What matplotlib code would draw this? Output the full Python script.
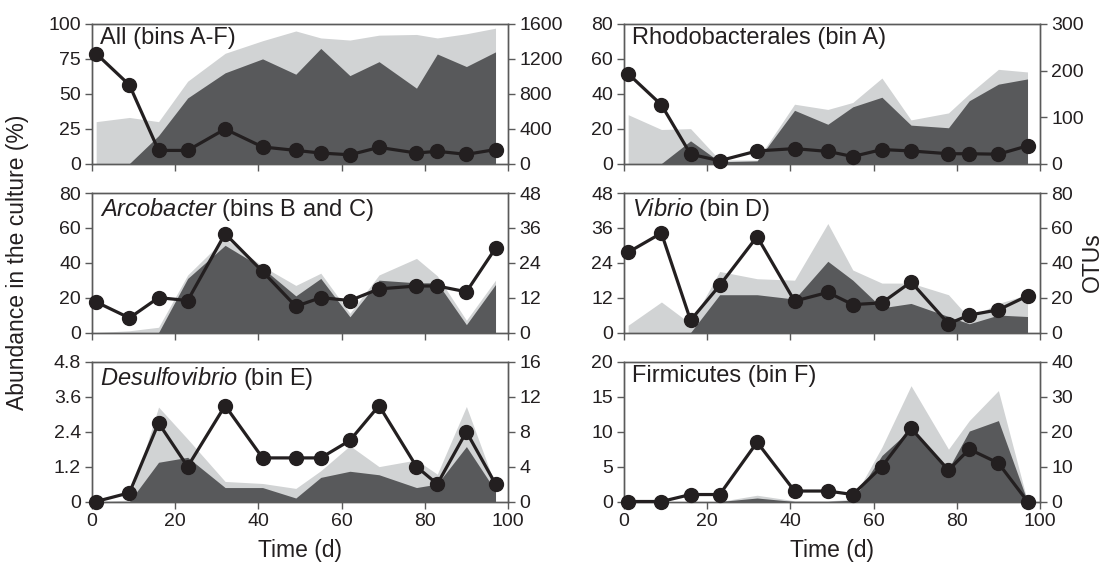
import matplotlib
matplotlib.use('Agg')
import matplotlib.pyplot as plt

plt.rcParams['font.family'] = ['Liberation Sans', 'DejaVu Sans']
plt.rcParams['mathtext.fontset'] = 'custom'
plt.rcParams['mathtext.rm'] = 'Liberation Sans'
plt.rcParams['mathtext.it'] = 'Liberation Sans:italic'

# ---------------- data ----------------
days = [1, 9, 16, 23, 32, 41, 49, 55, 62, 69, 78, 83, 90, 97]

all_light = [30, 33, 30, 59, 79, 88, 95, 90, 88.5, 92, 92.5, 90, 93, 97]
all_dark = [0, 0, 20, 47, 65, 75, 64, 82.5, 63, 73, 54, 78.5, 69.5, 80]
all_otus = [1260, 900, 150, 150, 395, 190, 150, 120, 100, 185, 120, 140, 105, 160]

rho_light = [28, 19.5, 20, 2, 2, 34, 31, 35, 49, 25, 29, 40, 54, 52.5]
rho_dark = [0, 0, 13, 1, 1.5, 30.5, 22.5, 32.5, 38, 22, 20.5, 36, 45.5, 48.5]
rho_otus = [193, 126, 20, 6, 27, 32, 26, 15, 30, 27, 21, 21, 20, 38]

arc_light = [0, 1, 3, 33, 54, 38, 27, 34, 11, 33, 42.5, 32.5, 7, 30]
arc_dark = [0, 0, 0, 31, 50, 37, 21, 31, 9, 30, 28.5, 28.5, 4.5, 27.5]
arc_otus = [10.5, 5, 12, 11, 34, 21, 9, 12, 11, 15, 16, 16, 14, 29]

vib_light = [2.5, 10.5, 3, 21, 18.5, 18, 37.5, 21.5, 17, 17, 13, 5, 10, 13]
vib_dark = [0, 0, 0, 13, 13, 11.5, 24.5, 18, 8.5, 10, 5.5, 3, 6, 5.5]
vib_otus = [46, 57, 7, 27, 55, 18, 23, 16, 17, 29, 5, 10, 13, 21]

des_light = [0, 0.05, 3.25, 2.15, 0.69, 0.62, 0.45, 1.06, 1.92, 1.2, 1.43, 0.94, 3.27, 0.54]
des_dark = [0, 0, 1.35, 1.52, 0.48, 0.48, 0.12, 0.83, 1.04, 0.92, 0.48, 0.6, 1.89, 0.37]
des_otus = [0, 1, 9, 4, 11, 5, 5, 5, 7, 11, 4, 2, 8, 2]

fir_light = [0, 0, 0, 0, 0.9, 0.1, 0.1, 0.3, 7.8, 16.6, 7.5, 11.6, 15.9, 0]
fir_dark = [0, 0, 0, 0, 0.5, 0, 0, 0.2, 6.6, 10.4, 4.7, 10.1, 11.6, 0]
fir_otus = [0, 0, 2, 2, 17, 3, 3, 2, 10, 21, 9, 15, 11, 0]

titles = ["All (bins A-F)", "Rhodobacterales (bin A)",
          r"$\mathit{Arcobacter}$ (bins B and C)", r"$\mathit{Vibrio}$ (bin D)",
          r"$\mathit{Desulfovibrio}$ (bin E)", "Firmicutes (bin F)"]
left_ticks = [[0, 25, 50, 75, 100], [0, 20, 40, 60, 80],
              [0, 20, 40, 60, 80], [0, 12, 24, 36, 48],
              [0, 1.2, 2.4, 3.6, 4.8], [0, 5, 10, 15, 20]]
left_labels = [["0", "25", "50", "75", "100"], ["0", "20", "40", "60", "80"],
               ["0", "20", "40", "60", "80"], ["0", "12", "24", "36", "48"],
               ["0", "1.2", "2.4", "3.6", "4.8"], ["0", "5", "10", "15", "20"]]
right_ticks = [[0, 400, 800, 1200, 1600], [0, 100, 200, 300],
               [0, 12, 24, 36, 48], [0, 20, 40, 60, 80],
               [0, 4, 8, 12, 16], [0, 10, 20, 30, 40]]
x_ticks = [0, 20, 40, 60, 80, 100]

lights = [all_light, rho_light, arc_light, vib_light, des_light, fir_light]
darks = [all_dark, rho_dark, arc_dark, vib_dark, des_dark, fir_dark]
otus = [all_otus, rho_otus, arc_otus, vib_otus, des_otus, fir_otus]

# ---------------- style ----------------
LIGHT = '#d1d3d4'
DARK = '#58595b'
INK = '#231f20'
SPINE = '#5a5a5a'
TICK_FS = 14

W, H = 1108, 566
fig = plt.figure(figsize=(W / 100, H / 100), dpi=100)

col_x = [92 / W, 624 / W]
col_w = 416 / W
row_top = [24, 193, 362]
row_h = 139.5

for i in range(6):
    r, c = divmod(i, 2)
    bottom = 1 - (row_top[r] + row_h) / H
    ax = fig.add_axes([col_x[c], bottom, col_w, row_h / H])
    ax.fill_between(days, 0, lights[i], color=LIGHT, lw=0, zorder=1)
    ax.fill_between(days, 0, darks[i], color=DARK, lw=0, zorder=2)
    ax.set_xlim(0, 100)
    ax.set_ylim(left_ticks[i][0], left_ticks[i][-1])
    ax.set_yticks(left_ticks[i])
    ax.set_yticklabels(left_labels[i])
    ax.set_xticks(x_ticks)
    if r < 2:
        ax.set_xticklabels([])
    ax.tick_params(axis='both', labelsize=TICK_FS, colors=INK, length=5,
                   width=1, direction='out', pad=3)
    ax.tick_params(axis='both', color=SPINE)
    for s in ax.spines.values():
        s.set_color(SPINE)
        s.set_linewidth(1)

    ax2 = ax.twinx()
    ax2.plot(days, otus[i], color=INK, lw=2.3, marker='o', ms=10,
             markerfacecolor=INK, markeredgecolor=INK, zorder=5,
             clip_on=False)
    ax2.set_ylim(right_ticks[i][0], right_ticks[i][-1])
    ax2.set_yticks(right_ticks[i])
    ax2.tick_params(axis='y', labelsize=TICK_FS, labelcolor=INK, color=SPINE,
                    length=5, width=1, direction='out', pad=3)
    for s in ax2.spines.values():
        s.set_color(SPINE)
        s.set_linewidth(1)

    ax.text(0.02, 0.975, titles[i], transform=ax.transAxes, ha='left',
            va='top', fontsize=17, color=INK, zorder=10)

    if r == 2:
        ax.set_xlabel("Time (d)", fontsize=16.5, color=INK, labelpad=7)

fig.text(0.016, 0.537, "Abundance in the culture (%)", rotation=90,
         ha='center', va='center', fontsize=16.5, color=INK)
fig.text(0.986, 0.537, "OTUs", rotation=90, ha='center', va='center',
         fontsize=16.5, color=INK)

fig.savefig('out.png', dpi=100)
